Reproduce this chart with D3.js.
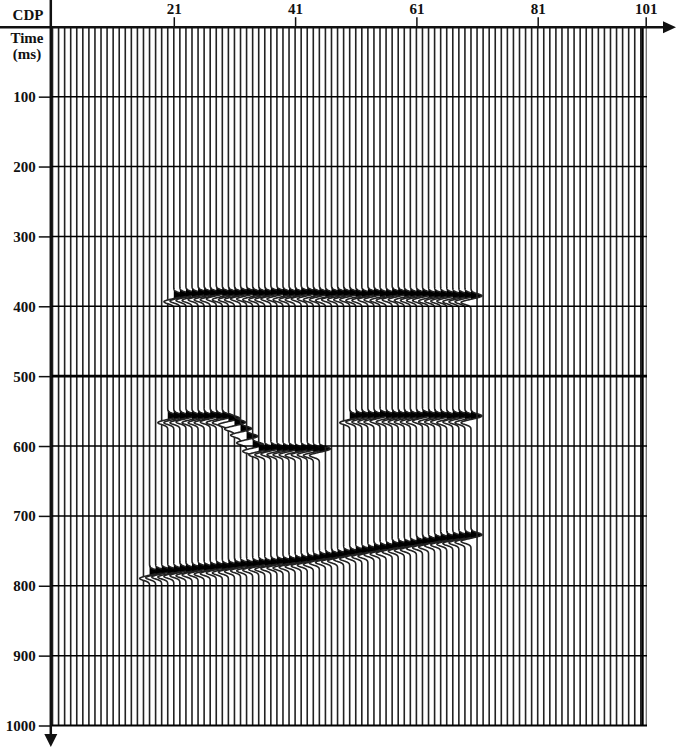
<!DOCTYPE html>
<html><head><meta charset="utf-8">
<script src="https://cdn.jsdelivr.net/npm/d3@7/dist/d3.min.js"></script>
<style>
body{margin:0;background:#fff}
svg{display:block}
text{font-family:"Liberation Serif","Times New Roman",serif;font-weight:bold;fill:#111}
</style></head>
<body><svg id="c" width="678" height="749"></svg>
<script>
// ---- data ----
const cdpTicks = [21, 41, 61, 81, 101];
const timeTicks = [100, 200, 300, 400, 500, 600, 700, 800, 900, 1000];
const firstCdp = 1, lastCdp = 98;           // traces visible in the section
// flat event near 380 ms
const ev1Start = 21;
const ev1Times = [384,383,382,382,381,381,381,380,381,381,381,380,380,381,381,381,380,380,381,381,
                  381,380,380,381,381,382,381,381,381,381,382,382,381,381,382,382,381,381,382,382,
                  382,382,383,383,383,383,384,384,384,385];
// broken / faulted event near 557-603 ms (left block)
const ev2Start = 20;
const ev2Times = [557,557,557,556,557,557,557,556,557,557,560,566,575,586,598,
                  603,603,602,603,603,603,604,603,603,604,604];
// right block near 556 ms
const ev3Start = 50;
const ev3Times = [557,556,556,556,556,555,556,556,556,556,556,556,555,556,556,556,557,556,556,557,557];
// dipping event 780 -> 727 ms
const ev4Start = 17;
const ev4Times = [780,779,778,778,777,776,776,775,774,774,773,772,772,771,770,769,769,768,767,767,
                  766,765,765,764,763,762,761,760,758,757,756,755,753,752,750,749,748,746,745,744,
                  742,741,740,739,737,736,735,733,732,731,730,729,728,727];

const events = [
  {start: ev1Start, times: ev1Times},
  {start: ev2Start, times: ev2Times},
  {start: ev3Start, times: ev3Times},
  {start: ev4Start, times: ev4Times}
];

// ---- layout ----
const svg = d3.select("#c");
const x = d3.scaleLinear().domain([1, 81]).range([52.5, 537.7]);
const xAxisScale = d3.scaleLinear().domain([1, 81, 101]).range([52.5, 537.7, 645.7]);
const y = d3.scaleLinear().domain([0, 1000]).range([26.8, 725.5]);
const axisX = 50.8, axisY = 27.2;
const plotRight = 647;
const gain = 11;

function wavelet(tau) {
  return Math.exp(-Math.pow(tau / 4.2, 2)) - 0.9 * Math.exp(-Math.pow((tau - 9.5) / 4, 2));
}

const traceCdps = d3.range(firstCdp, lastCdp + 1);
const traces = traceCdps.map(c => {
  const ts = [];
  events.forEach(e => {
    const i = c - e.start;
    if (i >= 0 && i < e.times.length) ts.push(e.times[i]);
  });
  let samples = [0, 1000];
  ts.forEach(t0 => { for (let t = t0 - 22; t <= t0 + 28; t += 0.5) samples.push(t); });
  samples = Array.from(new Set(samples)).sort((a, b) => a - b);
  const pts = samples.map(t => ({t, a: d3.sum(ts, t0 => wavelet(t - t0))}));
  return {cdp: c, pts};
});

// ---- traces ----
const gT = svg.append("g");
const lineGen = d3.line().y(d => y(d.t));
traces.forEach(tr => {
  const x0 = x(tr.cdp);
  const g = gT.append("g");
  g.append("path")
    .attr("d", d3.area().y(d => y(d.t)).x0(x0).x1(d => x0 + Math.max(0, d.a * gain))(tr.pts))
    .attr("fill", "#000");
  g.append("path")
    .attr("d", d3.area().y(d => y(d.t)).x0(x0).x1(d => x0 + Math.min(0, d.a * gain))(tr.pts))
    .attr("fill", "#fff");
  g.append("path")
    .attr("d", lineGen.x(d => x0 + d.a * gain)(tr.pts))
    .attr("fill", "none").attr("stroke", "#222").attr("stroke-width", 1.6);
});

// right frame
svg.append("line").attr("x1", 642.5).attr("x2", 642.5).attr("y1", axisY).attr("y2", y(1000))
  .attr("stroke", "#000").attr("stroke-width", 2.4);
svg.append("line").attr("x1", 646.3).attr("x2", 646.3).attr("y1", axisY).attr("y2", y(1000))
  .attr("stroke", "#777").attr("stroke-width", 1.4);

// horizontal time lines
svg.append("g").selectAll("line").data(timeTicks).join("line")
  .attr("x1", axisX).attr("x2", plotRight)
  .attr("y1", d => y(d)).attr("y2", d => y(d))
  .attr("stroke", "#000")
  .attr("stroke-width", d => d === 500 ? 2.6 : (d === 1000 ? 2 : 1.5));

// ---- axes ----
const topAxis = d3.axisTop(xAxisScale).tickValues(cdpTicks).tickFormat(d3.format("d")).tickSize(10).tickPadding(3);
const gTop = svg.append("g").attr("transform", `translate(0,${axisY})`).call(topAxis);
gTop.select(".domain").remove();
gTop.selectAll(".tick line").attr("stroke", "#111").attr("stroke-width", 1.5);
gTop.selectAll(".tick text").attr("font-size", 15).attr("font-family", "Liberation Serif").attr("font-weight", "bold").attr("fill", "#111");

const leftAxis = d3.axisLeft(y).tickValues(timeTicks).tickFormat(d3.format("d")).tickSize(12).tickPadding(3);
const gLeft = svg.append("g").attr("transform", `translate(${axisX},0)`).call(leftAxis);
gLeft.select(".domain").remove();
gLeft.selectAll(".tick line").attr("stroke", "#111").attr("stroke-width", 1.5);
gLeft.selectAll(".tick text").attr("font-size", 15).attr("font-family", "Liberation Serif").attr("font-weight", "bold").attr("fill", "#111").attr("dy", "0.34em");

// axis lines with arrows
svg.append("line").attr("x1", 0).attr("x2", 665).attr("y1", axisY).attr("y2", axisY)
  .attr("stroke", "#111").attr("stroke-width", 2.5);
svg.append("path").attr("d", `M663,${axisY - 6}L676,${axisY}L663,${axisY + 6}Z`).attr("fill", "#111");
svg.append("line").attr("x1", axisX).attr("x2", axisX).attr("y1", 0).attr("y2", 736)
  .attr("stroke", "#111").attr("stroke-width", 2.5);
svg.append("path").attr("d", `M${axisX - 6.5},734L${axisX},747L${axisX + 6.5},734Z`).attr("fill", "#111");

// titles
svg.append("text").attr("x", 28).attr("y", 19.5).attr("text-anchor", "middle").attr("font-size", 15).text("CDP");
svg.append("text").attr("x", 27).attr("y", 42.8).attr("text-anchor", "middle").attr("font-size", 15).text("Time");
svg.append("text").attr("x", 27).attr("y", 59).attr("text-anchor", "middle").attr("font-size", 15).text("(ms)");
</script>
</body></html>
